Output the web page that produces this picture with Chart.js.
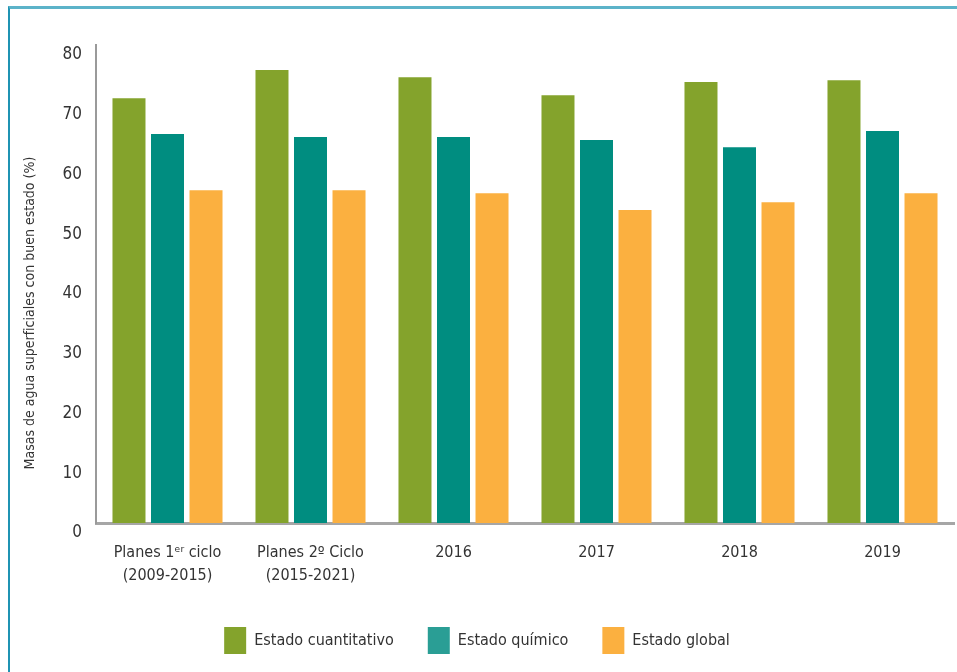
<!DOCTYPE html>
<html lang="es">
<head>
<meta charset="utf-8">
<title>Masas de agua superficiales con buen estado</title>
<script src="https://cdn.jsdelivr.net/npm/chart.js@4/dist/chart.umd.min.js"></script>
<style>
  html, body { margin: 0; padding: 0; background: #fff; }
  #wrap { position: relative; width: 957px; height: 672px; overflow: hidden; }
  #frame {
    position: absolute; left: 8px; top: 6px; right: -20px; bottom: -20px;
    border-left: 2px solid #1f93b3; border-top: 3px solid #5cb3c9;
  }
  #chart { position: absolute; left: 0; top: 0; }
</style>
</head>
<body>
<div id="wrap">
  <div id="frame"></div>
  <canvas id="chart" width="957" height="672"></canvas>
</div>
<script>
const categories = [
  ['Planes 1ᵉʳ ciclo', '(2009-2015)'],
  ['Planes 2º Ciclo', '(2015-2021)'],
  '2016', '2017', '2018', '2019'
]
const seriesNames = ['Estado cuantitativo', 'Estado químico', 'Estado global']
const cuantitativo = [71.1, 75.8, 74.6, 71.6, 73.8, 74.1]
const quimico = [65.1, 64.6, 64.6, 64.1, 62.9, 65.6]
const global = [55.7, 55.7, 55.2, 52.4, 53.7, 55.2]
const yTicks = [0, 10, 20, 30, 40, 50, 60, 70, 80]
const yTitle = 'Masas de agua superficiales con buen estado (%)'

const barColors = ['#84a32c', '#008d80', '#fbb040']
const legendColors = ['#84a32c', '#2a9e95', '#fbb040']
const textColor = '#333333'
const fontFamily = "'Liberation Sans Narrow', 'DejaVu Sans Condensed', 'Arial Narrow', sans-serif"

// rotated axis title, sitting a bit below the middle of the plot
const yTitlePlugin = {
  id: 'yTitle',
  afterDraw: (chart) => {
    const { ctx, chartArea } = chart
    ctx.save()
    ctx.translate(chartArea.left - 66, (chartArea.top + chartArea.bottom) / 2 + 29)
    ctx.rotate(-Math.PI / 2)
    ctx.font = `14px ${fontFamily}`
    ctx.fillStyle = textColor
    ctx.textAlign = 'center'
    ctx.textBaseline = 'middle'
    ctx.fillText(yTitle, 0, 0)
    ctx.restore()
  }
}

const makeDataset = (label, data, i) => ({
  label,
  data,
  backgroundColor: barColors[i],
  borderWidth: 0,
  categoryPercentage: 0.808,
  barPercentage: 0.857,
})

const chartConfig = {
  type: 'bar',
  data: {
    labels: categories,
    datasets: [
      makeDataset(seriesNames[0], cuantitativo, 0),
      makeDataset(seriesNames[1], quimico, 1),
      makeDataset(seriesNames[2], global, 2),
    ]
  },
  options: {
    responsive: false,
    animation: false,
    layout: { padding: { top: 45, right: 3, left: 0, bottom: 8 } },
    plugins: {
      tooltip: { enabled: false },
      legend: {
        position: 'bottom',
        labels: {
          boxWidth: 22,
          boxHeight: 27,
          padding: 34,
          color: textColor,
          font: { family: fontFamily, size: 16 },
          generateLabels: (chart) => {
            const items = Chart.defaults.plugins.legend.labels.generateLabels(chart)
            items.forEach((item, i) => {
              item.fillStyle = legendColors[i]
              item.strokeStyle = legendColors[i]
              item.lineWidth = 0
            })
            return items
          }
        }
      }
    },
    scales: {
      x: {
        grid: { display: false, drawTicks: false },
        border: { display: true, color: '#a6a6a6', width: 3 },
        ticks: {
          color: textColor,
          font: { family: fontFamily, size: 16, lineHeight: 1.4 },
          padding: 19,
          maxRotation: 0,
          autoSkip: false
        },
        afterFit: (scale) => { scale.height = 70 }
      },
      y: {
        min: 0,
        max: 80,
        grid: { display: false, drawTicks: false },
        border: { display: true, color: '#9a9a9a', width: 2 },
        afterBuildTicks: (scale) => { scale.ticks = yTicks.map(v => ({ value: v })) },
        ticks: {
          color: textColor,
          font: { family: fontFamily, size: 17 },
          padding: 14,
          labelOffset: 10
        },
        afterFit: (scale) => { scale.width = 96 }
      }
    }
  },
  plugins: [yTitlePlugin]
}

const chart = new Chart(document.getElementById('chart'), chartConfig)
</script>
</body>
</html>
